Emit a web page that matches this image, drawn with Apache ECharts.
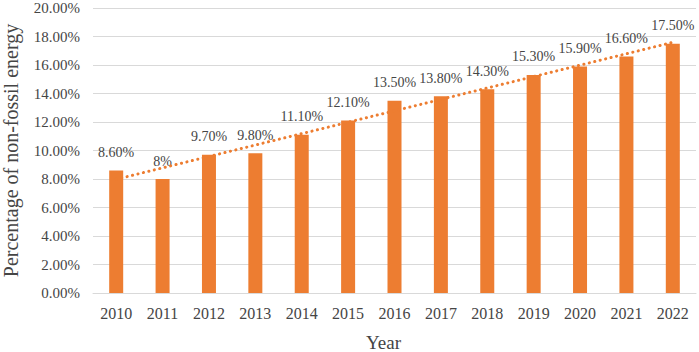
<!DOCTYPE html>
<html>
<head>
<meta charset="utf-8">
<script src="https://cdn.jsdelivr.net/npm/echarts@6/dist/echarts.min.js"></script>
<style>
  html, body { margin: 0; padding: 0; background: #fff; }
  #chart { width: 699px; height: 352px; }
</style>
</head>
<body>
<div id="chart"></div>
<script>
var years = ['2010', '2011', '2012', '2013', '2014', '2015', '2016', '2017', '2018', '2019', '2020', '2021', '2022'];
var shares = [8.6, 8.0, 9.7, 9.8, 11.1, 12.1, 13.5, 13.8, 14.3, 15.3, 15.9, 16.6, 17.5];
var shareLabels = ['8.60%', '8%', '9.70%', '9.80%', '11.10%', '12.10%', '13.50%', '13.80%', '14.30%', '15.30%', '15.90%', '16.60%', '17.50%'];
// linear trendline end points
var trendEnds = [7.98, 17.59];

var orange = '#ED7D31';
var ink = '#454545';
var font = '"Liberation Serif", "Times New Roman", serif';

var trend = years.map(function(y, i) {
  if (i === 0) return trendEnds[0];
  if (i === years.length - 1) return trendEnds[1];
  return null;
});

var chart = echarts.init(document.getElementById('chart'), null, { renderer: 'svg' });
chart.setOption({
  animation: false,
  textStyle: { fontFamily: font },
  grid: { left: 93, right: 3, top: 8, bottom: 59, containLabel: false, outerBoundsMode: 'none' },
  xAxis: {
    type: 'category',
    data: years,
    name: 'Year',
    nameLocation: 'middle',
    nameGap: 40,
    nameTextStyle: { fontFamily: font, fontSize: 19, color: ink, padding: [0, 22, 0, 0] },
    axisTick: { show: false },
    axisLine: { lineStyle: { color: '#D9D9D9', width: 1 } },
    axisLabel: { fontFamily: font, fontSize: 16, color: ink, margin: 12 }
  },
  yAxis: {
    type: 'value',
    min: 0,
    max: 20,
    interval: 2,
    name: 'Percentage of non-fossil energy',
    nameLocation: 'middle',
    nameGap: 72,
    nameTextStyle: { fontFamily: font, fontSize: 20, color: ink },
    axisLine: { show: false },
    axisTick: { show: false },
    splitLine: { lineStyle: { color: '#D9D9D9', width: 1 } },
    axisLabel: {
      fontFamily: font, fontSize: 15, color: ink, margin: 13,
      formatter: function(v) { return v.toFixed(2) + '%'; }
    }
  },
  series: [
    {
      type: 'bar',
      data: shares,
      barWidth: 14,
      itemStyle: { color: orange },
      label: {
        show: true,
        position: 'top',
        distance: 11,
        fontFamily: font,
        fontSize: 14,
        color: ink,
        formatter: function(p) { return shareLabels[p.dataIndex]; }
      },
      z: 2
    },
    {
      type: 'line',
      data: trend,
      connectNulls: true,
      symbol: 'none',
      lineStyle: { color: orange, width: 3, type: [0.1, 5.5], cap: 'round' },
      z: 3
    }
  ]
});
</script>
</body>
</html>
